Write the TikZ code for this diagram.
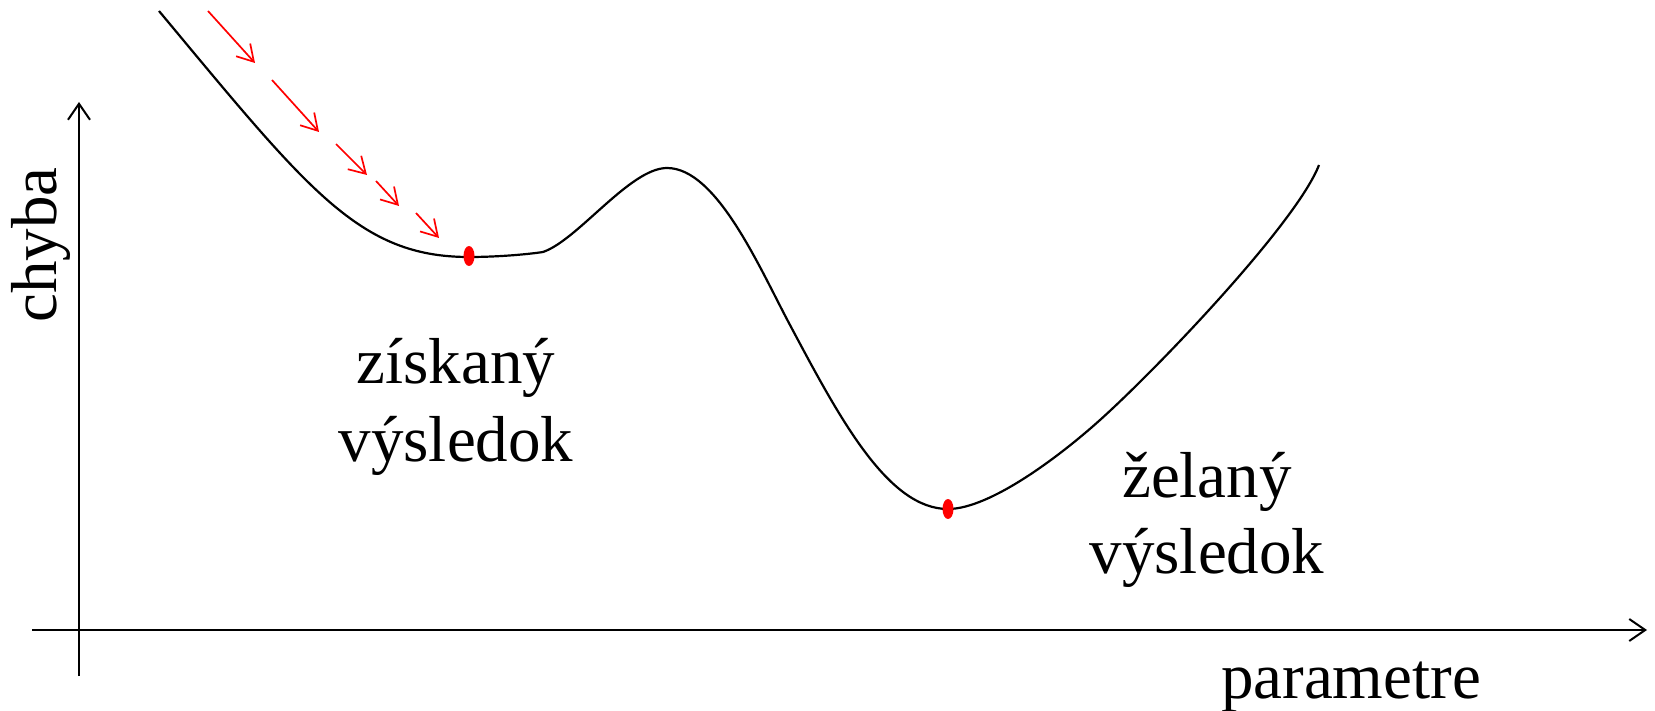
\documentclass[tikz,border=0pt]{standalone}
\usepackage{fontspec}
\setmainfont{Liberation Serif}
\usetikzlibrary{arrows.meta,shapes.geometric}
\begin{document}
\begin{tikzpicture}[x=0.5pt,y=-0.5pt,
  axis/.style={line width=1pt,-{Straight Barb[length=8pt,width=11pt,line width=1pt]}},
  redarrow/.style={red,line width=0.85pt,-{Straight Barb[length=8pt,width=9.5pt,line width=0.85pt]}},
  curve/.style={line width=1.1pt},
  dot/.style={ellipse,fill=red,draw=none,minimum width=5.5pt,minimum height=10pt,inner sep=0pt},
  lbl/.style={font=\fontsize{32.5}{39}\selectfont,inner sep=0pt}]
\useasboundingbox (0,0) rectangle (1655,711);
% axes
\coordinate (xs) at (32,630);
\coordinate (xe) at (1647,630);
\coordinate (ys) at (79,676);
\coordinate (ye) at (79,102);
\draw[axis] (xs) -- (xe);
\draw[axis] (ys) -- (ye);
% curve
\coordinate (c0) at (159,11);
\coordinate (c1) at (469,257);
\coordinate (c2) at (543,252);
\coordinate (c3) at (667,168);
\coordinate (c4) at (790,325);
\coordinate (c5) at (948,509);
\coordinate (c6) at (1100,420);
\coordinate (c7) at (1319,165);
\draw[curve] (c0) .. controls (309,191) and (359,257) .. (c1)
  .. controls (500,257) and (530,254) .. (c2)
  .. controls (578,240) and (630,168) .. (c3)
  .. controls (717,168) and (760,269) .. (c4)
  .. controls (840,419) and (888,509) .. (c5)
  .. controls (990,509) and (1060,456) .. (c6)
  .. controls (1160,366) and (1297,222) .. (c7);
% dots
\node[dot] (m1) at (469,256) {};
\node[dot] (m2) at (948,509) {};
% red arrows
\coordinate (a1s) at (208,11);  \coordinate (a1e) at (255,63);
\coordinate (a2s) at (272,80);  \coordinate (a2e) at (319,132);
\coordinate (a3s) at (336,144); \coordinate (a3e) at (367,175);
\coordinate (a4s) at (376,181); \coordinate (a4e) at (399,206);
\coordinate (a5s) at (416,213); \coordinate (a5e) at (439,238);
\draw[redarrow] (a1s) -- (a1e);
\draw[redarrow] (a2s) -- (a2e);
\draw[redarrow] (a3s) -- (a3e);
\draw[redarrow] (a4s) -- (a4e);
\draw[redarrow] (a5s) -- (a5e);
% labels
\node[lbl,anchor=base] (t1) at (456,384) {získaný};
\node[lbl,anchor=base] (t2) at (456,461) {výsledok};
\node[lbl,anchor=base] (t3) at (1207,497) {želaný};
\node[lbl,anchor=base] (t4) at (1207,573) {výsledok};
\node[lbl,anchor=base] (tx) at (1351,698) {parametre};
\node[lbl,anchor=base,rotate=90] (ty) at (56,245) {chyba};
\end{tikzpicture}
\end{document}
